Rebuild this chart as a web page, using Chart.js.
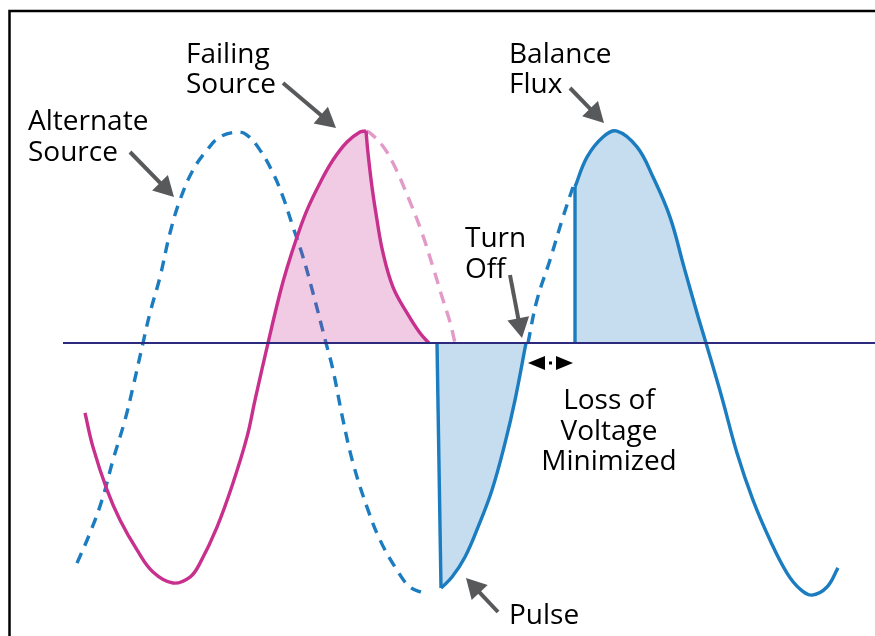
<!DOCTYPE html>
<html>
<head>
<meta charset="utf-8">
<script src="https://cdn.jsdelivr.net/npm/chart.js@4"></script>
<style>
  html, body { margin: 0; padding: 0; background: #fff; }
  #wrap { width: 875px; height: 636px; position: relative; }
</style>
</head>
<body>
<div id="wrap"><canvas id="myChart"></canvas></div>
<script>
// time axis in px-like units, voltage in % of nominal peak
const alternateT = [77, 90, 102, 113, 125, 133, 143, 150, 160, 170, 180, 193, 207, 220, 237, 247, 260, 273, 283, 293, 303, 313, 326, 333, 343, 353, 367, 380, 397, 410, 423, 475, 528, 537, 550, 563, 573];
const alternateV = [-103.8, -89.6, -74.1, -55.2, -36.3, -20.8, 0, 14.2, 31.1, 51.9, 67.5, 81.6, 91.0, 97.2, 99.5, 98.1, 91.0, 80.2, 68.9, 54.7, 40.6, 23.6, 0, -12.7, -36.3, -56.6, -77.4, -92.9, -107.1, -115.1, -117.9, null, 0, 20.3, 39.2, 59.4, 73.6];

const failingT = [85, 93, 107, 120, 137, 153, 173, 190, 200, 217, 233, 247, 255, 268, 280, 287, 297, 307, 320, 333, 347, 360, 366];
const failingV = [-33.0, -49.1, -69.3, -83.5, -97.6, -108.0, -113.2, -110.4, -103.8, -86.8, -66.0, -44.3, -26.9, 0, 23.6, 35.4, 50.0, 62.7, 75.5, 86.3, 94.8, 99.5, 100];

const decayT = [366, 368, 372, 377, 383, 393, 407, 420, 429];
const decayV = [100, 89.6, 73.6, 58.0, 42.5, 26.4, 14.2, 4.7, 0];

const lostT = [366, 370, 382, 393, 408, 422, 433, 443, 450, 455];
const lostV = [100, 99.1, 93.4, 84.9, 68.9, 51.9, 35.8, 20.3, 9.9, 0];

const pulseDropT = [437, 441];
const pulseDropV = [0, -115.6];
const pulseT = [441, 452, 465, 478, 492, 505, 515, 526];
const pulseV = [-115.6, -110.4, -100.9, -86.8, -69.3, -47.2, -26.9, 0];

const stepT = [575, 575];
const stepV = [0, 73.6];
const fluxT = [575, 587, 603, 617, 637, 653, 670, 684, 697, 706, 722, 737, 753, 770, 787, 800, 812, 827, 838];
const fluxV = [73.6, 87.7, 97.2, 100, 92.5, 78.3, 59.4, 35.8, 14.2, 0, -25.9, -51.9, -74.1, -92.9, -108.5, -116.0, -118.9, -115.1, -106.1];

const baseT = [63, 875];
const baseV = [0, 0];

const BLUE = '#1b7cc0';
const MAGENTA = '#c8308e';
const PINK = '#e39ac9';
const NAVY = '#2d2a7e';
const GREY = '#58595b';
const PINK_FILL = 'rgba(200,49,143,0.25)';
const BLUE_FILL = 'rgba(22,120,190,0.25)';
const NONE = 'rgba(0,0,0,0)';

function pts(t, v) {
    return t.map((x, i) => ({ x: x, y: v[i] }));
}

function line(t, v, color, extra) {
    return Object.assign({
        data: pts(t, v),
        borderColor: color,
        borderWidth: 3.4,
        pointRadius: 0,
        fill: false,
        tension: 0.4,
        spanGaps: false
    }, extra || {});
}

const annotations = {
    id: 'annotations',
    afterDraw(chart) {
        const ctx = chart.ctx;
        ctx.save();

        // frame
        ctx.strokeStyle = '#000';
        ctx.lineWidth = 2.5;
        ctx.beginPath();
        ctx.moveTo(9.5, 640);
        ctx.lineTo(9.5, 11);
        ctx.lineTo(880, 11);
        ctx.stroke();

        // labels
        ctx.fillStyle = '#000';
        ctx.font = '28px "Open Sans"';
        ctx.textBaseline = 'alphabetic';
        ctx.textAlign = 'left';
        const left = [
            ['Alternate', 28, 130], ['Source', 28, 161],
            ['Failing', 186, 63], ['Source', 186, 93],
            ['Balance', 509, 63], ['Flux', 509, 93],
            ['Turn', 465, 247], ['Off', 465, 278],
            ['Pulse', 509, 624]
        ];
        left.forEach(([s, x, y]) => ctx.fillText(s, x, y));
        ctx.textAlign = 'center';
        [['Loss of', 409], ['Voltage', 440], ['Minimized', 470]].forEach(([s, y]) => ctx.fillText(s, 609, y));

        // pointer arrows
        function arrow(x0, y0, x1, y1) {
            const a = Math.atan2(y1 - y0, x1 - x0);
            const len = 20, hw = 11;
            const bx = x1 - len * Math.cos(a), by = y1 - len * Math.sin(a);
            ctx.strokeStyle = GREY;
            ctx.lineWidth = 4;
            ctx.lineCap = 'butt';
            ctx.beginPath();
            ctx.moveTo(x0, y0);
            ctx.lineTo(bx + 2 * Math.cos(a), by + 2 * Math.sin(a));
            ctx.stroke();
            ctx.fillStyle = GREY;
            ctx.beginPath();
            ctx.moveTo(x1, y1);
            ctx.lineTo(bx - hw * Math.sin(a), by + hw * Math.cos(a));
            ctx.lineTo(bx + hw * Math.sin(a), by - hw * Math.cos(a));
            ctx.closePath();
            ctx.fill();
        }
        arrow(130, 152, 174, 197);
        arrow(283, 83, 336, 128);
        arrow(570, 88, 604, 123);
        arrow(510, 275, 522, 338);
        arrow(498, 612, 466, 578);

        // loss-of-voltage gap marker
        ctx.fillStyle = '#000';
        ctx.beginPath();
        ctx.moveTo(528, 363); ctx.lineTo(545, 356); ctx.lineTo(545, 370); ctx.closePath();
        ctx.fill();
        ctx.beginPath();
        ctx.moveTo(573, 363); ctx.lineTo(556, 356); ctx.lineTo(556, 370); ctx.closePath();
        ctx.fill();
        ctx.fillRect(549, 361.5, 3, 3);

        ctx.restore();
    }
};

const config = {
    type: 'line',
    data: {
        datasets: [
            line(baseT, baseV, NAVY, { borderWidth: 2.2, tension: 0 }),
            line(stepT, stepV, BLUE, { tension: 0 }),
            line(fluxT, fluxV, BLUE, { fill: { target: 'origin', above: BLUE_FILL, below: NONE } }),
            line(pulseDropT, pulseDropV, BLUE, { tension: 0, fill: { target: 'origin', above: NONE, below: BLUE_FILL } }),
            line(pulseT, pulseV, BLUE, { fill: { target: 'origin', above: NONE, below: BLUE_FILL } }),
            line(decayT, decayV, MAGENTA, { fill: { target: 'origin', above: PINK_FILL, below: NONE } }),
            line(failingT, failingV, MAGENTA, { fill: { target: 'origin', above: PINK_FILL, below: NONE } }),
            line(lostT, lostV, PINK, { borderDash: [12, 8] }),
            line(alternateT, alternateV, BLUE, { borderDash: [11, 8] })
        ]
    },
    options: {
        responsive: true,
        maintainAspectRatio: false,
        animation: false,
        layout: { padding: 0 },
        scales: {
            x: { type: 'linear', min: 0, max: 875, display: false },
            y: { type: 'linear', min: -138.2, max: 161.8, display: false }
        },
        plugins: {
            legend: { display: false },
            tooltip: { enabled: false }
        }
    },
    plugins: [annotations]
};

let myChart = new Chart(document.getElementById('myChart'), config);
</script>
</body>
</html>
